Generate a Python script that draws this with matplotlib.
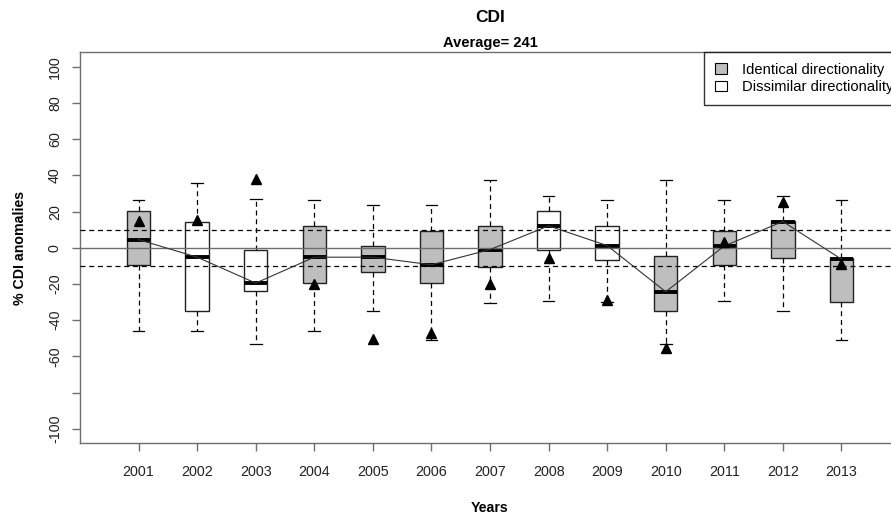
import matplotlib
matplotlib.use("Agg")
import matplotlib.pyplot as plt
from matplotlib.patches import Patch

plt.rcParams['font.family'] = ['Liberation Sans', 'DejaVu Sans']

years = ["2001", "2002", "2003", "2004", "2005", "2006", "2007",
         "2008", "2009", "2010", "2011", "2012", "2013"]
whisker_low = [-46, -46, -53, -46, -34.8, -51, -30.6, -29.5, -29.9, -53.2, -29.5, -34.8, -51]
q1 = [-9.4, -34.9, -24.1, -19.5, -13.5, -19.5, -10.8, -1.0, -6.8, -34.8, -9.5, -5.4, -29.7]
median = [4.5, -5.2, -19.5, -5.2, -5.2, -9.4, -1.0, 12.1, 1.2, -24.3, 1.0, 14.5, -6.3]
q3 = [20.3, 14.1, -1.2, 11.9, 1.2, 9.5, 12.1, 20.3, 12.1, -4.5, 9.4, 15.0, -5.4]
whisker_high = [26.6, 35.9, 27.2, 26.6, 23.4, 23.4, 37.5, 28.8, 26.6, 37.5, 26.6, 28.8, 26.6]
triangle = [14.6, 15.4, 37.9, -19.9, -50.5, -46.8, -19.9, -5.9, -29.0, -55.4, 3.2, 25.5, -9.0]
directionality = ["Identical", "Dissimilar", "Dissimilar", "Identical", "Identical", "Identical",
                  "Identical", "Dissimilar", "Dissimilar", "Identical", "Identical", "Identical",
                  "Identical"]
y_ticks = [100, 80, 60, 40, 20, 0, -20, -40, -60, -80, -100]
y_ticklabels = ["100", "80", "60", "40", "20", "0", "-20", "-40", "-60", "", "-100"]
legend_labels = ["Identical directionality", "Dissimilar directionality"]

W, H = 891, 517
fig = plt.figure(figsize=(W / 100, H / 100), dpi=100)
ax = fig.add_axes([80 / W, 1 - 443.3 / H, 820 / W, (443.3 - 51.7) / H])

positions = list(range(1, len(years) + 1))
fill = {"Identical": "#BEBEBE", "Dissimilar": "white"}

stats = []
for i in range(len(years)):
    stats.append(dict(whislo=whisker_low[i], q1=q1[i], med=median[i], q3=q3[i],
                      whishi=whisker_high[i], fliers=[], label=years[i]))

bp = ax.bxp(stats, positions=positions, widths=0.4, patch_artist=True,
            showfliers=False,
            boxprops=dict(edgecolor="#222222", linewidth=1.0),
            medianprops=dict(color="black", linewidth=2.8, solid_capstyle="butt"),
            whiskerprops=dict(color="black", linewidth=0.9, linestyle=(0, (4, 3))),
            capprops=dict(color="black", linewidth=0.9),
            capwidths=0.2)
for patch, d in zip(bp["boxes"], directionality):
    patch.set_facecolor(fill[d])
    patch.set_zorder(2)

# reference lines
ax.axhline(0, color="#6e6e6e", linewidth=1.0, zorder=3)
ax.axhline(10, color="black", linewidth=0.9, linestyle=(0, (4, 3)), zorder=3)
ax.axhline(-10, color="black", linewidth=0.9, linestyle=(0, (4, 3)), zorder=3)

# median line
ax.plot(positions, median, color="#333333", linewidth=0.8, zorder=4)
# triangles
ax.plot(positions, triangle, linestyle="none", marker="^", color="black",
        markersize=6.5, zorder=5)

ax.set_xlim(0, 14)
ax.set_ylim(-108, 108.3)
ax.set_xticks(positions)
ax.set_xticklabels(years, fontsize=10.3, color="#222222")
ax.set_yticks(y_ticks)
ax.set_yticklabels(y_ticklabels, fontsize=10.3, color="#222222", rotation=90, va="center")
for s in ax.spines.values():
    s.set_color("#6e6e6e")
    s.set_linewidth(1.0)
ax.tick_params(axis="both", length=6, width=1.0, color="#6e6e6e")
ax.tick_params(axis="x", pad=9.5)
ax.tick_params(axis="y", pad=7)

ax.set_xlabel("Years", fontsize=10.2, fontweight="bold", labelpad=16)
ax.set_ylabel("% CDI anomalies", fontsize=10.2, fontweight="bold", labelpad=15)

fig.text(490 / W, 1 - 17 / H, "CDI", ha="center", va="center", fontsize=12.5, fontweight="bold")
fig.text(490 / W, 1 - 43 / H, "Average= 241", ha="center", va="center", fontsize=10.5,
         fontweight="bold")

handles = [Patch(facecolor="#BEBEBE", edgecolor="black", linewidth=0.8),
           Patch(facecolor="white", edgecolor="black", linewidth=0.8)]
leg = fig.legend(handles, legend_labels, loc="upper left",
                 bbox_to_anchor=(704 / W, 1 - 51.7 / H), bbox_transform=fig.transFigure,
                 fontsize=10.6, frameon=True, fancybox=False, borderaxespad=0,
                 handlelength=0.8, handleheight=0.7, handletextpad=1.0,
                 borderpad=0.75, labelspacing=0.25)
leg.get_frame().set_edgecolor("black")
leg.get_frame().set_linewidth(1.0)

fig.savefig("out.png", dpi=100)
